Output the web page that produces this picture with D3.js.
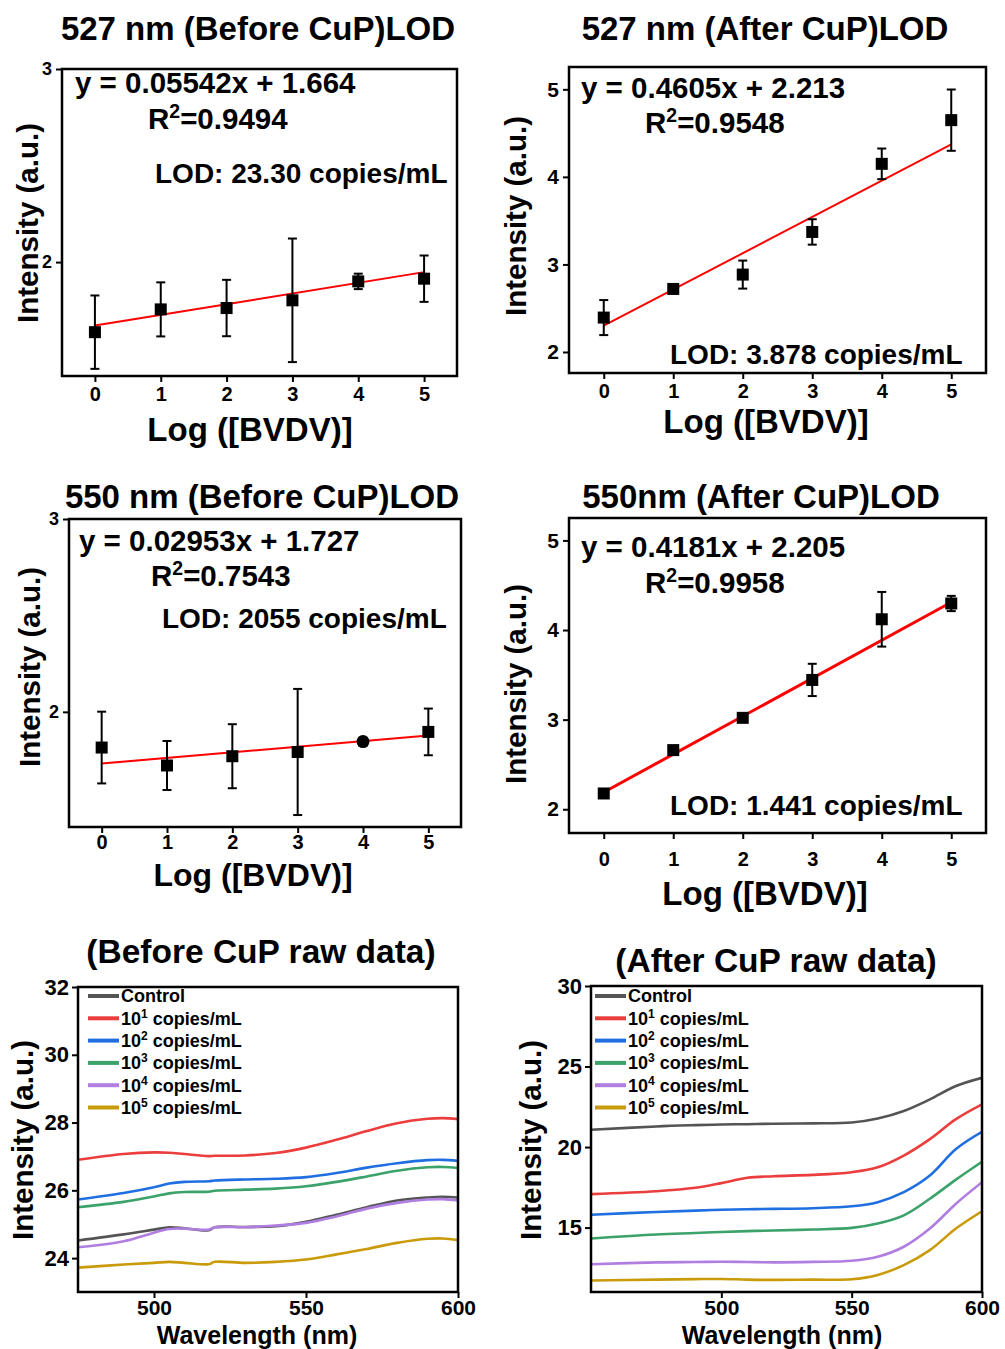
<!DOCTYPE html>
<html><head><meta charset="utf-8">
<script src="https://cdn.jsdelivr.net/npm/d3@7/dist/d3.min.js"></script>
<style>
body{margin:0;background:#fff;}
svg text{font-family:"Liberation Sans",Arial,Helvetica,sans-serif;font-weight:bold;fill:#000;}
</style></head><body>
<svg id="c" width="1005" height="1349"></svg>
<script>
// ---------------- DATA ----------------
const logConc = [0, 1, 2, 3, 4, 5];
const logTicks = [0, 1, 2, 3, 4, 5];

const i527Before = [1.637, 1.755, 1.762, 1.802, 1.900, 1.914];
const e527Before = [0.19, 0.14, 0.146, 0.32, 0.04, 0.12];
const fit527Before = [1.671, 1.948];           // fitted line at x=0 and x=5

const i527After = [2.393, 2.72, 2.884, 3.371, 4.149, 4.648];
const e527After = [0.20, 0.03, 0.16, 0.145, 0.175, 0.35];
const fit527After = [2.30, 4.37];

const i550Before = [1.815, 1.722, 1.770, 1.792, 1.846, 1.896];
const e550Before = [0.186, 0.127, 0.166, 0.327, 0.02, 0.121];
const fit550Before = [1.732, 1.877];

const i550After = [2.176, 2.66, 3.02, 3.443, 4.12, 4.296];
const e550After = [0.02, 0.03, 0.03, 0.18, 0.305, 0.085];
const fit550After = [2.19, 4.31];

const ticks527Before = [2, 3];
const ticks527After = [2, 3, 4, 5];
const ticks550Before = [2, 3];
const ticks550After = [2, 3, 4, 5];

const seriesNames = ["Control", "10", "10", "10", "10", "10"];
const seriesExp = [null, 1, 2, 3, 4, 5];

const wlBefore = [475, 490, 500, 505, 510, 518, 520, 530, 540, 550, 560, 570, 580, 590, 595, 600];
const beforeControl = [24.52, 24.70, 24.84, 24.91, 24.88, 24.82, 24.91, 24.92, 24.94, 25.07, 25.28, 25.50, 25.70, 25.79, 25.81, 25.79];
const before1 = [26.90, 27.07, 27.12, 27.11, 27.07, 27.01, 27.02, 27.03, 27.10, 27.26, 27.49, 27.75, 27.98, 28.11, 28.13, 28.10];
const before2 = [25.73, 25.92, 26.09, 26.20, 26.25, 26.27, 26.29, 26.32, 26.34, 26.39, 26.51, 26.67, 26.80, 26.89, 26.90, 26.87];
const before3 = [25.50, 25.66, 25.82, 25.91, 25.95, 25.96, 25.99, 26.02, 26.05, 26.12, 26.25, 26.41, 26.58, 26.68, 26.69, 26.66];
const before4 = [24.32, 24.50, 24.75, 24.86, 24.87, 24.84, 24.91, 24.91, 24.96, 25.04, 25.23, 25.46, 25.63, 25.73, 25.74, 25.70];
const before5 = [23.72, 23.81, 23.86, 23.89, 23.86, 23.82, 23.89, 23.86, 23.89, 23.96, 24.11, 24.27, 24.45, 24.57, 24.58, 24.53];

const wlAfter = [450, 475, 490, 500, 510, 520, 535, 550, 560, 570, 580, 590, 600];
const afterControl = [21.07, 21.28, 21.36, 21.40, 21.42, 21.45, 21.47, 21.52, 21.77, 22.24, 22.96, 23.79, 24.30];
const after1 = [17.08, 17.26, 17.47, 17.76, 18.09, 18.19, 18.27, 18.44, 18.74, 19.47, 20.49, 21.73, 22.65];
const after2 = [15.80, 15.97, 16.05, 16.11, 16.14, 16.16, 16.20, 16.32, 16.58, 17.20, 18.23, 19.88, 20.95];
const after3 = [14.32, 14.57, 14.66, 14.73, 14.78, 14.82, 14.88, 14.98, 15.25, 15.76, 16.79, 17.98, 19.09];
const after4 = [12.72, 12.84, 12.86, 12.88, 12.86, 12.84, 12.87, 12.94, 13.19, 13.81, 14.94, 16.48, 17.82];
const after5 = [11.71, 11.77, 11.80, 11.81, 11.77, 11.75, 11.77, 11.79, 12.06, 12.67, 13.60, 14.94, 16.01];

const wlTicks = [500, 550, 600];
const beforeYTicks = [24, 26, 28, 30, 32];
const afterYTicks = [15, 20, 25, 30];

// ---------------- STYLE ----------------
const seriesColors = ["#545454", "#ec3d3d", "#1f6fe0", "#3ba26a", "#b07ee0", "#c99a0a"];
const svg = d3.select("#c");

function styleAxis(sel, fs) {
  sel.select(".domain").remove();
  sel.selectAll(".tick line").attr("stroke", "#000").attr("stroke-width", 2);
  sel.selectAll(".tick text").attr("font-size", fs).attr("fill", "#000")
     .style("font-family", '"Liberation Sans",Arial,sans-serif').style("font-weight", "bold");
}

function addText(x, y, str, fs, anchor) {
  return svg.append("text").attr("x", x).attr("y", y).attr("font-size", fs)
    .attr("text-anchor", anchor || "start").text(str);
}

function addSupText(x, y, base, sup, rest, fs, anchor) {
  const t = svg.append("text").attr("x", x).attr("y", y).attr("font-size", fs)
    .attr("text-anchor", anchor || "start");
  t.append("tspan").text(base);
  t.append("tspan").attr("font-size", fs * 0.66).attr("dy", -fs * 0.36).text(sup);
  t.append("tspan").attr("dy", fs * 0.36).text(rest);
  return t;
}

function yLabel(cx, cy, str, fs) {
  svg.append("text").attr("transform", `translate(${cx},${cy}) rotate(-90)`)
    .attr("text-anchor", "middle").attr("dominant-baseline", "central")
    .attr("font-size", fs).text(str);
}

function scatterPanel(c) {
  const x = d3.scaleLinear().domain([-0.5, 5.5]).range([c.x0, c.x1]);
  const y = d3.scaleLinear().domain(c.yDomain).range([c.y1, c.y0]);
  const g = svg.append("g");
  const ax = g.append("g").attr("transform", `translate(0,${c.y1})`)
    .call(d3.axisBottom(x).tickValues(logTicks).tickSize(6).tickPadding(c.xPad).tickFormat(d3.format("d")));
  styleAxis(ax, 20);
  const ay = g.append("g").attr("transform", `translate(${c.x0},0)`)
    .call(d3.axisLeft(y).tickValues(c.yTicks).tickSize(6).tickPadding(c.yPad).tickFormat(d3.format("d")));
  styleAxis(ay, c.yFs);
  // fit line
  g.append("line").attr("x1", x(0)).attr("x2", x(5))
    .attr("y1", y(c.fit[0])).attr("y2", y(c.fit[1]))
    .attr("stroke", "#ff0000").attr("stroke-width", c.fitW);
  // error bars
  const pts = logConc.map((v, i) => ({x: v, y: c.vals[i], e: c.errs[i], i}));
  const eb = g.selectAll(".eb").data(pts).enter().append("g");
  eb.append("line").attr("x1", d => x(d.x)).attr("x2", d => x(d.x))
    .attr("y1", d => y(d.y + d.e)).attr("y2", d => y(d.y - d.e)).attr("stroke", "#000").attr("stroke-width", 2);
  [1, -1].forEach(s => {
    eb.append("line").attr("x1", d => x(d.x) - 4.5).attr("x2", d => x(d.x) + 4.5)
      .attr("y1", d => y(d.y + s * d.e)).attr("y2", d => y(d.y + s * d.e))
      .attr("stroke", "#000").attr("stroke-width", 2);
  });
  // markers
  pts.forEach(d => {
    if (c.circleIdx === d.i) {
      g.append("circle").attr("cx", x(d.x)).attr("cy", y(d.y)).attr("r", 6.5).attr("fill", "#000");
    } else {
      g.append("rect").attr("x", x(d.x) - 6).attr("y", y(d.y) - 6).attr("width", 12).attr("height", 12).attr("fill", "#000");
    }
  });
  // frame
  g.append("rect").attr("x", c.x0).attr("y", c.y0).attr("width", c.x1 - c.x0).attr("height", c.y1 - c.y0)
    .attr("fill", "none").attr("stroke", "#000").attr("stroke-width", 2.5);
  // texts
  addText(c.title[0], c.title[1], c.titleStr, 33, "middle");
  addText(c.eq[0], c.eq[1], c.eqStr, 29.5);
  addSupText(c.r2[0], c.r2[1], "R", "2", c.r2Str, 29.5);
  addText(c.lod[0], c.lod[1], c.lodStr, 28);
  addText(c.xl[0], c.xl[1], "Log ([BVDV)]", c.xlFs || 33, "middle");
  yLabel(c.yl[0], c.yl[1], "Intensity (a.u.)", 29.5);
}

function spectraPanel(c) {
  const x = d3.scaleLinear().domain(c.xDomain).range([c.x0, c.x1]);
  const y = d3.scaleLinear().domain(c.yDomain).range([c.y1, c.y0]);
  const g = svg.append("g");
  const ax = g.append("g").attr("transform", `translate(0,${c.y1})`)
    .call(d3.axisBottom(x).tickValues(wlTicks).tickSize(6).tickPadding(2).tickFormat(d3.format("d")));
  styleAxis(ax, 21);
  const ay = g.append("g").attr("transform", `translate(${c.x0},0)`)
    .call(d3.axisLeft(y).tickValues(c.yTicks).tickSize(6).tickPadding(3).tickFormat(d3.format("d")));
  styleAxis(ay, 22);
  const line = d3.line().x(d => x(d[0])).y(d => y(d[1])).curve(d3.curveCatmullRom.alpha(0.5));
  const clipId = "clip" + c.id;
  svg.append("clipPath").attr("id", clipId).append("rect")
    .attr("x", c.x0).attr("y", c.y0).attr("width", c.x1 - c.x0).attr("height", c.y1 - c.y0);
  c.series.forEach((s, i) => {
    g.append("path").attr("d", line(c.wl.map((w, j) => [w, s[j]])))
      .attr("fill", "none").attr("stroke", seriesColors[i]).attr("stroke-width", 2.6)
      .attr("clip-path", `url(#${clipId})`);
  });
  g.append("rect").attr("x", c.x0).attr("y", c.y0).attr("width", c.x1 - c.x0).attr("height", c.y1 - c.y0)
    .attr("fill", "none").attr("stroke", "#000").attr("stroke-width", 2.5);
  // legend
  seriesNames.forEach((n, i) => {
    const yy = c.leg[1] + i * 22.3;
    g.append("line").attr("x1", c.leg[0]).attr("x2", c.leg[0] + 31).attr("y1", yy).attr("y2", yy)
      .attr("stroke", seriesColors[i]).attr("stroke-width", 4);
    const t = g.append("text").attr("x", c.leg[0] + 33).attr("y", yy).attr("dy", "0.36em").attr("font-size", 18);
    if (seriesExp[i] === null) t.text(n);
    else {
      t.append("tspan").text(n);
      t.append("tspan").attr("font-size", 12).attr("dy", -7).text(seriesExp[i]);
      t.append("tspan").attr("dy", 7).text(" copies/mL");
    }
  });
  addText(c.title[0], c.title[1], c.titleStr, 33.5, "middle");
  addText(c.xl[0], c.xl[1], "Wavelength (nm)", 25, "middle");
  yLabel(c.yl[0], c.yl[1], "Intensity (a.u.)", 29.5);
}

scatterPanel({x0: 62, x1: 457, y0: 69, y1: 376, yDomain: [1.41, 3], yTicks: ticks527Before, yFs: 18, yPad: 4, xPad: 5,
  vals: i527Before, errs: e527Before, fit: fit527Before, fitW: 2,
  title: [258, 40], titleStr: "527 nm (Before CuP)LOD",
  eq: [75, 93], eqStr: "y = 0.05542x + 1.664", r2: [148, 129], r2Str: "=0.9494",
  lod: [155, 183], lodStr: "LOD: 23.30 copies/mL", xl: [250, 441], yl: [27, 223]});

scatterPanel({x0: 569, x1: 986, y0: 67, y1: 373, yDomain: [1.76, 5.255], yTicks: ticks527After, yFs: 21, yPad: 4, xPad: 5,
  vals: i527After, errs: e527After, fit: fit527After, fitW: 2,
  title: [765, 40], titleStr: "527 nm (After CuP)LOD",
  eq: [581, 98], eqStr: "y = 0.4605x + 2.213", r2: [645, 133], r2Str: "=0.9548",
  lod: [670, 364], lodStr: "LOD: 3.878 copies/mL", xl: [766, 433], yl: [515, 216]});

scatterPanel({x0: 69, x1: 461, y0: 519, y1: 827, yDomain: [1.403, 3], yTicks: ticks550Before, yFs: 18, yPad: 4, xPad: 2,
  vals: i550Before, errs: e550Before, fit: fit550Before, fitW: 2, circleIdx: 4,
  title: [262, 508], titleStr: "550 nm (Before CuP)LOD",
  eq: [79, 551], eqStr: "y = 0.02953x + 1.727", r2: [151, 586], r2Str: "=0.7543",
  lod: [162, 628], lodStr: "LOD: 2055 copies/mL", xl: [253, 886], xlFs: 32, yl: [29, 667]});

scatterPanel({x0: 569, x1: 986, y0: 518, y1: 833, yDomain: [1.735, 5.25], yTicks: ticks550After, yFs: 21, yPad: 4, xPad: 13,
  vals: i550After, errs: e550After, fit: fit550After, fitW: 3,
  title: [761, 508], titleStr: "550nm (After CuP)LOD",
  eq: [581, 557], eqStr: "y = 0.4181x + 2.205", r2: [645, 593], r2Str: "=0.9958",
  lod: [670, 815], lodStr: "LOD: 1.441 copies/mL", xl: [765, 905], yl: [515, 684]});

spectraPanel({id: "b", x0: 78, x1: 458, y0: 987, y1: 1292, xDomain: [475, 600], yDomain: [23, 32], yTicks: beforeYTicks,
  wl: wlBefore, series: [beforeControl, before1, before2, before3, before4, before5],
  leg: [88, 996], title: [261, 963], titleStr: "(Before CuP raw data)", xl: [257, 1344], yl: [22, 1140]});

spectraPanel({id: "a", x0: 591, x1: 982, y0: 986, y1: 1292, xDomain: [450, 600], yDomain: [11, 30], yTicks: afterYTicks,
  wl: wlAfter, series: [afterControl, after1, after2, after3, after4, after5],
  leg: [595, 996], title: [776, 972], titleStr: "(After CuP raw data)", xl: [782, 1344], yl: [530, 1140]});
</script>
</body></html>
